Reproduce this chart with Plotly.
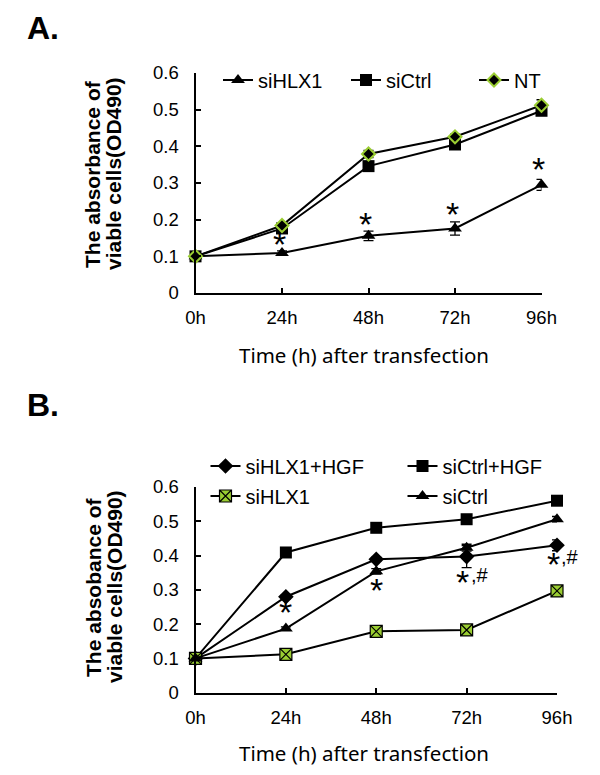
import plotly.graph_objects as go

# ---------------- data ----------------
time_labels = ["0h", "24h", "48h", "72h", "96h"]
time_idx = [0, 1, 2, 3, 4]

# Panel A
a_siHLX1 = [0.100, 0.109, 0.156, 0.176, 0.295]
a_siHLX1_err = [0.0, 0.006, 0.013, 0.018, 0.015]
a_siCtrl = [0.100, 0.176, 0.346, 0.405, 0.497]
a_siCtrl_err = [0.0, 0.005, 0.006, 0.006, 0.008]
a_NT = [0.100, 0.184, 0.379, 0.426, 0.512]
a_NT_err = [0.0, 0.005, 0.010, 0.007, 0.015]
a_star_idx = [1, 2, 3, 4]
a_star_val = [0.139, 0.194, 0.220, 0.343]

# Panel B
b_siHLX1_HGF = [0.100, 0.280, 0.389, 0.397, 0.430]
b_siHLX1_HGF_err = [0.0, 0.006, 0.006, 0.032, 0.016]
b_siCtrl_HGF = [0.100, 0.409, 0.481, 0.506, 0.560]
b_siCtrl_HGF_err = [0.0, 0.006, 0.006, 0.006, 0.008]
b_siHLX1 = [0.100, 0.112, 0.179, 0.183, 0.297]
b_siHLX1_err = [0.0, 0.004, 0.005, 0.005, 0.006]
b_siCtrl = [0.100, 0.187, 0.354, 0.423, 0.506]
b_siCtrl_err = [0.0, 0.005, 0.008, 0.010, 0.008]
b_mark_idx = [1, 2, 3, 4]
b_mark_val = [0.241, 0.305, 0.330, 0.381]
b_mark_hash = [False, False, True, True]

y_ticks = [0, 0.1, 0.2, 0.3, 0.4, 0.5, 0.6]
y_ticktext = ["0", "0.1", "0.2", "0.3", "0.4", "0.5", "0.6"]

GREEN = "#9ACD32"
FONT = "Liberation Sans, Arial, sans-serif"

fig = go.Figure()


def add_series(x, y, err, name, symbol, size, color, lcolor, lwidth, xa, ya, legend):
    fig.add_trace(go.Scatter(
        x=x, y=y, name=name, mode="lines+markers",
        line=dict(color="black", width=2),
        marker=dict(symbol=symbol, size=size, color=color,
                    line=dict(color=lcolor, width=lwidth)),
        error_y=dict(type="data", array=err, visible=True, color="black",
                     thickness=1.3, width=5),
        xaxis=xa, yaxis=ya, legend=legend, cliponaxis=False,
    ))


# Panel A traces
add_series(time_idx, a_siHLX1, a_siHLX1_err, "siHLX1", "triangle-up", 12,
           "black", "black", 0, "x", "y", "legend")
add_series(time_idx, a_siCtrl, a_siCtrl_err, "siCtrl", "square", 12,
           "black", "black", 0, "x", "y", "legend")
add_series(time_idx, a_NT, a_NT_err, "NT", "diamond", 10,
           "black", GREEN, 2, "x", "y", "legend")

# Panel B traces
add_series(time_idx, b_siHLX1_HGF, b_siHLX1_HGF_err, "siHLX1+HGF", "diamond", 12,
           "black", "black", 0, "x2", "y2", "legend2")
add_series(time_idx, b_siCtrl_HGF, b_siCtrl_HGF_err, "siCtrl+HGF", "square", 12,
           "black", "black", 0, "x2", "y2", "legend2")
add_series(time_idx, b_siHLX1, b_siHLX1_err, "siHLX1", "square-x", 12,
           GREEN, "black", 1.2, "x2", "y2", "legend3")
add_series(time_idx, b_siCtrl, b_siCtrl_err, "siCtrl", "triangle-up", 12,
           "black", "black", 0, "x2", "y2", "legend3")

W, H = 600, 775


def px_x(p):
    return p / W


def px_y(p):
    return 1 - p / H


axis_common = dict(
    showline=True, linecolor="black", linewidth=2,
    ticks="inside", ticklen=5, tickwidth=2, tickcolor="black",
    showgrid=False, zeroline=False,
    tickfont=dict(family=FONT, size=18.5, color="black"),
)

xa = dict(axis_common, range=[0, 4], tickvals=time_idx, ticktext=time_labels,
          ticklabelstandoff=7)
ya = dict(axis_common, range=[0, 0.6], tickvals=y_ticks, ticktext=y_ticktext,
          ticklabelstandoff=11)

leg_common = dict(orientation="h", xanchor="left", yanchor="middle",
                  bgcolor="rgba(0,0,0,0)",
                  font=dict(family=FONT, size=20, color="black"),
                  itemwidth=30, entrywidthmode="pixels")

fig.update_layout(
    width=W, height=H,
    margin=dict(l=0, r=0, t=0, b=0, autoexpand=False),
    paper_bgcolor="white", plot_bgcolor="white",
    showlegend=True,
    xaxis=dict(xa, domain=[px_x(195.5), px_x(541.5)], anchor="y"),
    yaxis=dict(ya, domain=[px_y(293), px_y(73)], anchor="x"),
    xaxis2=dict(xa, domain=[px_x(195.5), px_x(557)], anchor="y2"),
    yaxis2=dict(ya, domain=[px_y(692.7), px_y(487)], anchor="x2"),
    legend=dict(leg_common, x=px_x(218), y=px_y(80), entrywidth=83),
    legend2=dict(leg_common, x=px_x(205.5), y=px_y(466), entrywidth=152),
    legend3=dict(leg_common, x=px_x(205.5), y=px_y(496), entrywidth=152),
)

ann = []
# panel letters
for t, yc in [("A.", 28), ("B.", 405)]:
    ann.append(dict(text="<b>" + t + "</b>", x=px_x(25), y=px_y(yc),
                    xref="paper", yref="paper",
                    xanchor="left", yanchor="middle", showarrow=False,
                    font=dict(family=FONT, size=32, color="black")))

# y axis titles (two lines each)
for line, xc, yc in [("The absorbance of", 93, 174), ("viable cells(OD490)", 114, 174),
                     ("The absobance of", 93, 587), ("viable cells(OD490)", 114, 587)]:
    ann.append(dict(text="<b>" + line + "</b>", x=px_x(xc), y=px_y(yc),
                    xref="paper", yref="paper", textangle=-90,
                    xanchor="center", yanchor="middle", showarrow=False,
                    font=dict(family=FONT, size=21, color="black")))

# x axis titles
for yc in [355, 753]:
    ann.append(dict(text="Time (h) after transfection", x=px_x(364), y=px_y(yc),
                    xref="paper", yref="paper", xanchor="center", yanchor="middle",
                    showarrow=False,
                    font=dict(family="Noto Sans, Open Sans, sans-serif", size=20.5,
                              color="black")))

# significance marks
for xi, yv in zip(a_star_idx, a_star_val):
    ann.append(dict(text="*", x=xi, y=yv, xref="x", yref="y", showarrow=False,
                    xanchor="center", yanchor="middle", yshift=-2, xshift=-3,
                    font=dict(family=FONT, size=34, color="black")))
for xi, yv, h in zip(b_mark_idx, b_mark_val, b_mark_hash):
    ann.append(dict(text="*", x=xi, y=yv, xref="x2", yref="y2", showarrow=False,
                    xanchor="center", yanchor="middle", yshift=-2,
                    xshift=-4 if h else 0,
                    font=dict(family=FONT, size=34, color="black")))
    if h:
        ann.append(dict(text=",#", x=xi, y=yv, xref="x2", yref="y2", showarrow=False,
                        xanchor="center", yanchor="middle", yshift=5, xshift=13,
                        font=dict(family=FONT, size=20, color="black")))

fig.update_layout(annotations=ann)
fig.write_html("out.html", config={"displayModeBar": False},
               post_script="document.body.style.margin='0px';")
